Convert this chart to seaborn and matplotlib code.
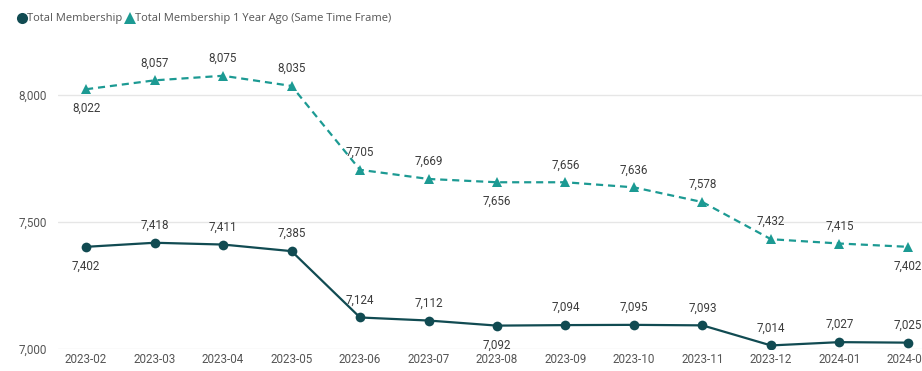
import matplotlib
matplotlib.use("Agg")
import matplotlib.pyplot as plt
from matplotlib.lines import Line2D
import pandas as pd
import seaborn as sns

months = ["2023-02", "2023-03", "2023-04", "2023-05", "2023-06", "2023-07",
          "2023-08", "2023-09", "2023-10", "2023-11", "2023-12", "2024-01", "2024-02"]
total_membership = [7402, 7418, 7411, 7385, 7124, 7112, 7092, 7094, 7095, 7093, 7014, 7027, 7025]
year_ago = [8022, 8057, 8075, 8035, 7705, 7669, 7656, 7656, 7636, 7578, 7432, 7415, 7402]

# label placement per point: +1 above, -1 below
total_label_side = [-1, 1, 1, 1, 1, 1, -1, 1, 1, 1, 1, 1, 1]
year_ago_label_side = [-1, 1, 1, 1, 1, 1, -1, 1, 1, 1, 1, 1, -1]

s_total = "Total Membership"
s_ago = "Total Membership 1 Year Ago (Same Time Frame)"
c_total = "#114B52"
c_ago = "#1C9A93"

df = pd.DataFrame({
    "month": months * 2,
    "value": total_membership + year_ago,
    "series": [s_total] * len(months) + [s_ago] * len(months),
})

sns.set_theme(style="white")
plt.rcParams["font.family"] = ["Roboto", "DejaVu Sans"]

fig = plt.figure(figsize=(9.22, 3.71), dpi=100)
ax = fig.add_axes([58 / 922, 22 / 371, 878 / 922, 305 / 371])

sns.lineplot(
    data=df, x="month", y="value", hue="series", style="series",
    palette={s_total: c_total, s_ago: c_ago},
    markers={s_total: "o", s_ago: "^"},
    dashes={s_total: "", s_ago: (3.2, 2.2)},
    linewidth=1.6, markersize=7, markeredgewidth=0,
    legend=False, ax=ax, sort=False,
)

ax.set_xlim(-0.41, len(months) - 1 + 0.41)
ax.set_ylim(7000, 8200)
ax.set_yticks([7000, 7500, 8000])
ax.set_yticklabels([f"{v:,}" for v in [7000, 7500, 8000]])
ax.set_xlabel("")
ax.set_ylabel("")
for sp in ax.spines.values():
    sp.set_visible(False)
ax.grid(axis="y", color="#E6E6E6", linewidth=1.0)
ax.grid(axis="x", visible=False)
ax.tick_params(axis="both", length=0, labelsize=8.4, colors="#555555")
ax.tick_params(axis="y", pad=8)
ax.tick_params(axis="x", pad=3)

# data labels
for series_vals, sides in ((total_membership, total_label_side), (year_ago, year_ago_label_side)):
    for i, (v, side) in enumerate(zip(series_vals, sides)):
        off = 12.6 if side > 0 else -14.0
        ax.annotate(f"{v:,}", (i, v), xytext=(0, off), textcoords="offset points",
                    ha="center", va="center", fontsize=8.4, color="#3C3C3C",
                    annotation_clip=False)

handles = [
    Line2D([], [], marker="o", color=c_total, linestyle="none", markersize=8, markeredgewidth=0),
    Line2D([], [], marker="^", color=c_ago, linestyle="none", markersize=8, markeredgewidth=0),
]
fig.legend(handles, [s_total, s_ago], loc="center left", bbox_to_anchor=(19 / 922, 1 - 19 / 371),
           ncol=2, frameon=False, handlelength=0.6, handletextpad=0.15, columnspacing=0.4,
           borderaxespad=0, borderpad=0,
           prop={"family": ["Open Sans", "DejaVu Sans"], "size": 8.0}, labelcolor="#555555")

fig.savefig("out.png", dpi=100, facecolor="white")
